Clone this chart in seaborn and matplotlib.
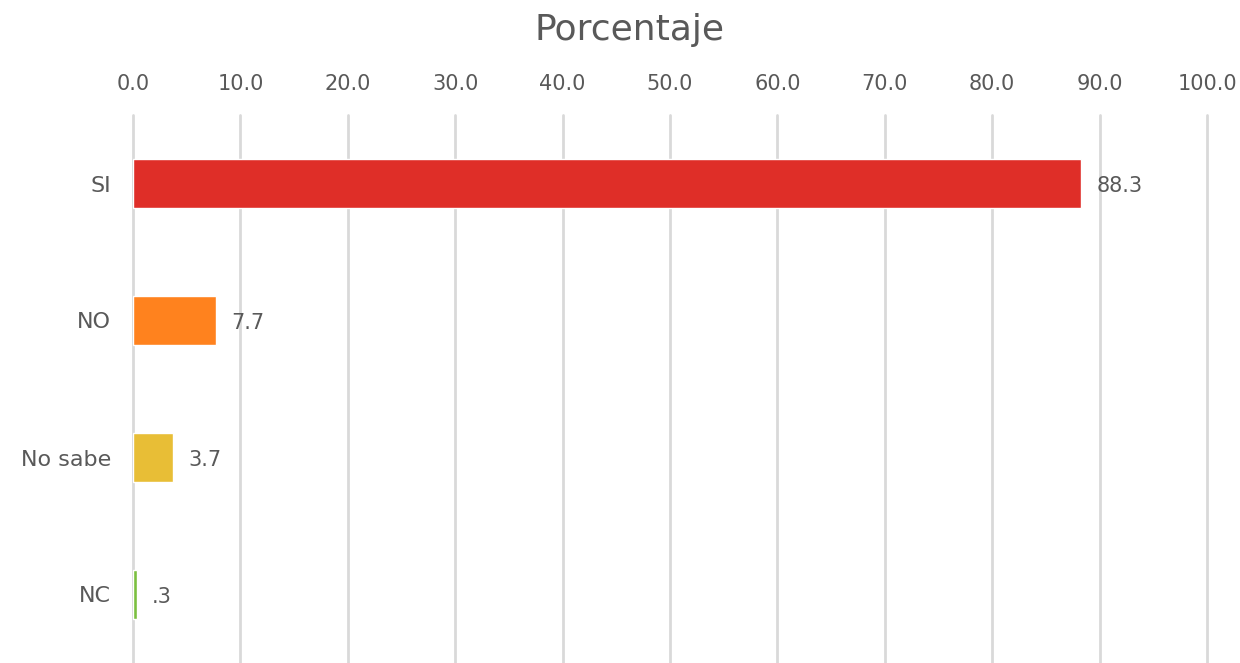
import pandas as pd
import matplotlib.pyplot as plt
import seaborn as sns

# datos
categorias = ["SI", "NO", "No sabe", "NC"]
porcentajes = [88.3, 7.7, 3.7, 0.35]
etiquetas = ["88.3", "7.7", "3.7", ".3"]
colores = ["#DF2E28", "#FF821E", "#E8BE36", "#7BBF3F"]
ticks_x = [0, 10, 20, 30, 40, 50, 60, 70, 80, 90, 100]

df = pd.DataFrame({"categoria": categorias, "porcentaje": porcentajes})

sns.set_style("white")
plt.rcParams["font.family"] = ["DejaVu Sans"]
gris = "#595959"

fig = plt.figure(figsize=(12.4, 6.63), dpi=100)
ax = fig.add_axes([133 / 1240, 0.0, (1207 - 133) / 1240, (663 - 115) / 663])

sns.barplot(data=df, x="porcentaje", y="categoria", hue="categoria",
            palette=colores, width=0.362, legend=False, ax=ax, saturation=1)

ax.set_xlim(0, 100)
ax.set_ylim(3.5, -0.5)
ax.set_xticks(ticks_x)
ax.set_xticklabels([f"{t:.1f}" for t in ticks_x])
ax.xaxis.tick_top()
ax.tick_params(axis="x", length=0, pad=15, labelsize=15, labelcolor=gris)
ax.tick_params(axis="y", length=0, pad=16, labelsize=16, labelcolor=gris)
ax.grid(axis="x", color="#D9D9D9", linewidth=2)
ax.set_axisbelow(True)
for ln in ax.xaxis.get_gridlines():
    ln.set_clip_on(False)
for s in ax.spines.values():
    s.set_visible(False)
ax.set_xlabel("")
ax.set_ylabel("")

for i, (v, txt) in enumerate(zip(porcentajes, etiquetas)):
    ax.annotate(txt, (v, i), xytext=(11, -2), textcoords="offset points",
                va="center", ha="left", fontsize=15, color=gris)

fig.text(630 / 1240, 1 - 30 / 663, "Porcentaje", ha="center", va="center",
         fontsize=26, color=gris)

fig.savefig("out.png", dpi=100)
